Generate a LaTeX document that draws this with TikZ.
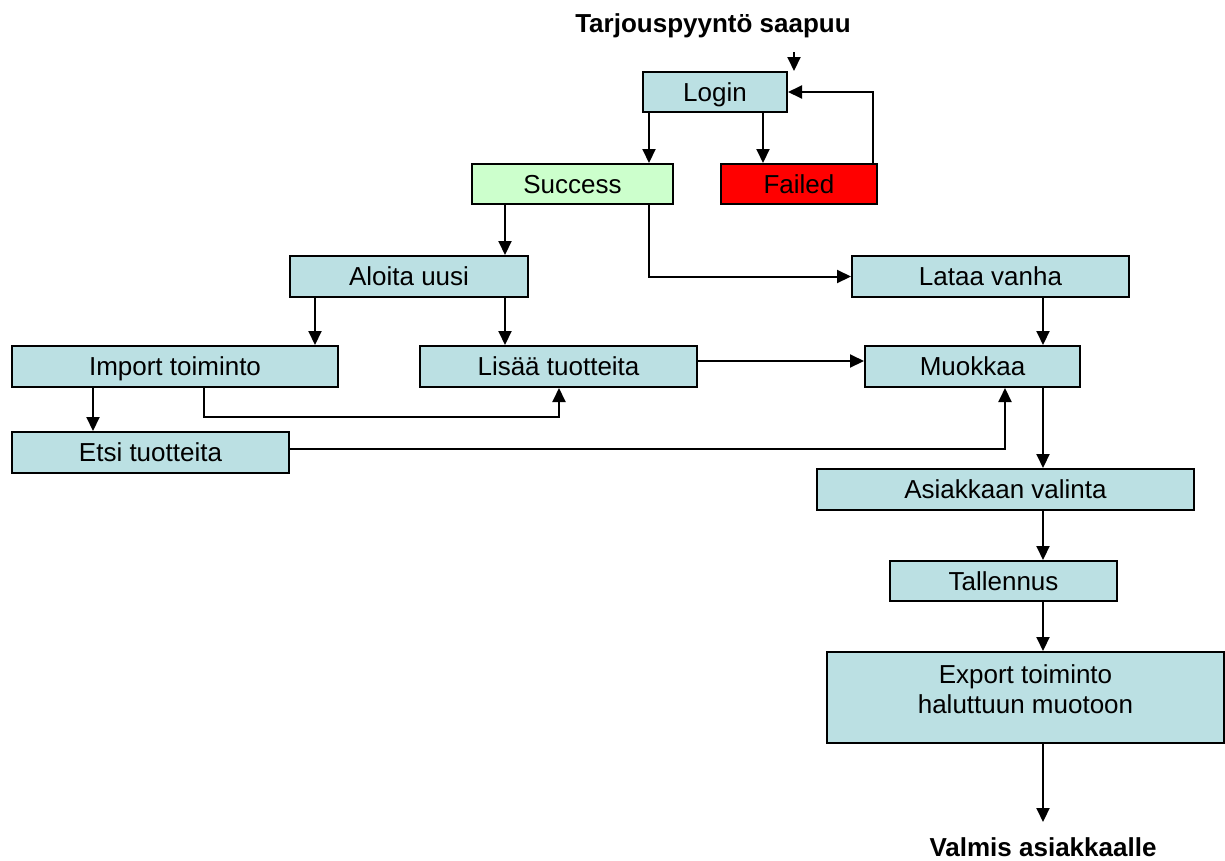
\documentclass[tikz,border=0pt]{standalone}
\usepackage{fontspec}
\setmainfont{Liberation Sans}
\usetikzlibrary{arrows.meta}
\definecolor{boxblue}{RGB}{187,224,227}
\definecolor{okgreen}{RGB}{204,255,204}
\definecolor{badred}{RGB}{255,0,0}
\begin{document}
\begin{tikzpicture}[x=1pt,y=-1pt,
  box/.style={draw=black, line width=2pt, fill=boxblue, rectangle, inner sep=0pt,
    font=\fontsize{26}{30}\selectfont, text height=18.6pt, text depth=0pt},
  arr/.style={line width=2pt, -{Triangle[length=14pt,width=13pt]}},
  plain/.style={line width=2pt},
  bold/.style={font=\fontsize{26}{30}\selectfont\bfseries, inner sep=0pt, anchor=base}]
\useasboundingbox (0,0) rectangle (1225,860);

% title texts
\node[bold] (title) at (713,32) {Tarjouspyyntö saapuu};
\node[bold] (valmis) at (1043,856) {Valmis asiakkaalle};

% boxes
\node[box, minimum width=144pt, minimum height=40pt] (login) at (715,92) {Login};
\node[box, fill=okgreen, minimum width=201pt, minimum height=40pt] (success) at (572.5,184) {Success};
\node[box, fill=badred, minimum width=156pt, minimum height=40pt] (failed) at (799,184) {Failed};
\node[box, minimum width=238pt, minimum height=41pt] (aloita) at (409,276.5) {Aloita uusi};
\node[box, minimum width=277pt, minimum height=41pt] (lataa) at (990.5,276.5) {Lataa vanha};
\node[box, minimum width=326pt, minimum height=41pt] (import) at (175,366.5) {Import toiminto};
\node[box, minimum width=277pt, minimum height=41pt] (lisaa) at (558.5,366.5) {Lisää tuotteita};
\node[box, minimum width=215pt, minimum height=41pt] (muokkaa) at (972.5,366.5) {Muokkaa};
\node[box, minimum width=277pt, minimum height=41pt] (etsi) at (150.5,452.5) {Etsi tuotteita};
\node[box, minimum width=377pt, minimum height=41pt] (asiakas) at (1005.5,489.5) {Asiakkaan valinta};
\node[box, minimum width=227pt, minimum height=40pt] (tallennus) at (1003.5,581) {Tallennus};
\node[box, minimum width=397pt, minimum height=91pt] (export) at (1025.5,697.5) {};
\node[align=center, inner sep=0pt, font=\fontsize{26}{30}\selectfont] (exporttxt) at (1025.5,689) {Export toiminto\\haluttuun muotoon};

% helper coordinates
\coordinate (in) at (794,52);
\coordinate (c649) at (649,0);
\coordinate (c763) at (763,0);
\coordinate (c873) at (873,0);
\coordinate (c505) at (505,0);
\coordinate (c315) at (315,0);
\coordinate (c93) at (93,0);
\coordinate (c204) at (204,0);
\coordinate (k) at (559,417);
\coordinate (y361) at (0,361);
\coordinate (y449) at (0,449);
\coordinate (c1005) at (1005,0);
\coordinate (c1043) at (1043,0);
\coordinate (outend) at (1043,822);

% connectors
\draw[arr] (in) -- (login.north -| in);
\draw[arr] (login.south -| c649) -- (success.north -| c649);
\draw[arr] (login.south -| c763) -- (failed.north -| c763);
\draw[arr] (failed.north -| c873) |- (login.east);
\draw[arr] (success.south -| c505) -- (aloita.north -| c505);
\draw[arr] (success.south -| c649) |- (lataa.west);
\draw[arr] (aloita.south -| c315) -- (import.north -| c315);
\draw[arr] (aloita.south -| c505) -- (lisaa.north -| c505);
\draw[arr] (import.south -| c93) -- (etsi.north -| c93);
\draw[arr] (import.south -| c204) |- (k) -- (lisaa.south -| k);
\draw[arr] (lisaa.east |- y361) -- (muokkaa.west |- y361);
\draw[arr] (etsi.east |- y449) -| (muokkaa.south -| c1005);
\draw[arr] (lataa.south -| c1043) -- (muokkaa.north -| c1043);
\draw[arr] (muokkaa.south -| c1043) -- (asiakas.north -| c1043);
\draw[arr] (asiakas.south -| c1043) -- (tallennus.north -| c1043);
\draw[arr] (tallennus.south -| c1043) -- (export.north -| c1043);
\draw[arr] (export.south -| c1043) -- (outend);
\end{tikzpicture}
\end{document}
